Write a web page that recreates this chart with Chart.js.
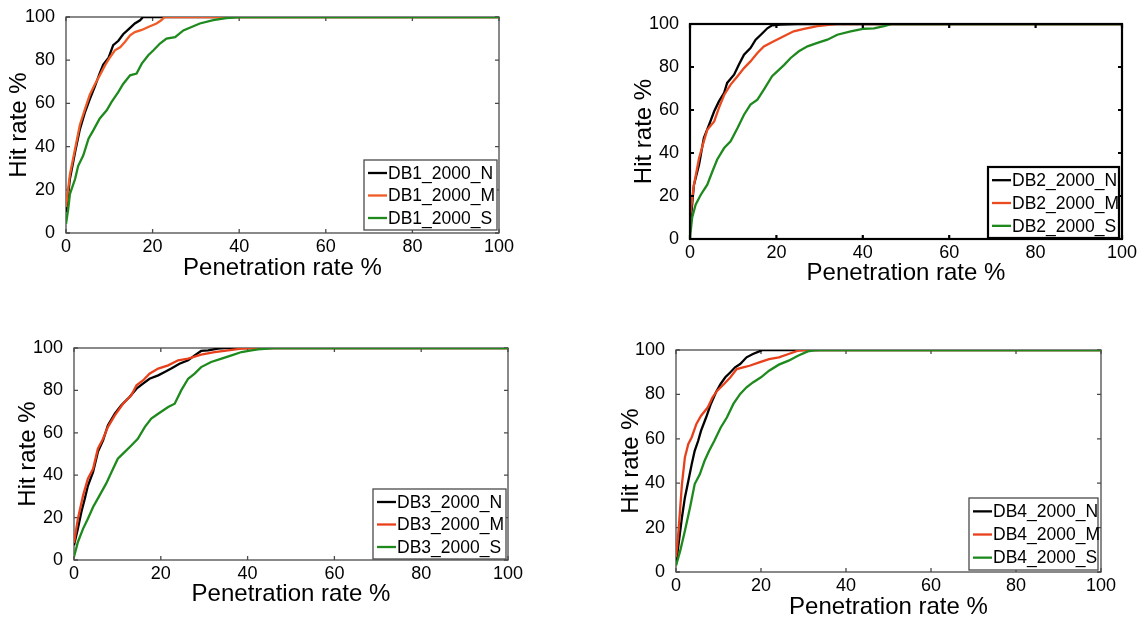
<!DOCTYPE html>
<html>
<head>
<meta charset="utf-8">
<script src="https://cdn.jsdelivr.net/npm/chart.js@4/dist/chart.umd.min.js"></script>
<style>
  html, body { margin: 0; padding: 0; background: #fff; }
  #wrap { position: relative; width: 1145px; height: 621px; overflow: hidden; background: #fff; }
  canvas { position: absolute; left: 0; top: 0; }
</style>
</head>
<body>
<div id="wrap">
  <canvas id="c1" width="1145" height="621"></canvas>
  <canvas id="c2" width="1145" height="621"></canvas>
  <canvas id="c3" width="1145" height="621"></canvas>
  <canvas id="c4" width="1145" height="621"></canvas>
</div>
<script>
// ---------- data ----------
const tickValues = [0, 20, 40, 60, 80, 100];
const tickLabels = ['0', '20', '40', '60', '80', '100'];
const xTitle = 'Penetration rate %';
const yTitle = 'Hit rate %';

const db1Labels = ['DB1_2000_N', 'DB1_2000_M', 'DB1_2000_S'];
const db2Labels = ['DB2_2000_N', 'DB2_2000_M', 'DB2_2000_S'];
const db3Labels = ['DB3_2000_N', 'DB3_2000_M', 'DB3_2000_S'];
const db4Labels = ['DB4_2000_N', 'DB4_2000_M', 'DB4_2000_S'];

// DB1
const db1N_x = [0,0.9,2.1,3.2,4.4,5.5,6.7,7.8,8.6,9.8,10.9,12.1,13.2,14.8,15.9,17.1,17.8,100];
const db1N_y = [9.7,25,37.5,48,56,62,68,74,78,81,87,89,92,95,97,98.5,100,100];
const db1M_x = [0,0.9,2.1,3.2,4.4,5.5,6.7,7.8,9,10.2,11.3,12.5,13.6,14.8,15.9,17.5,19,20.9,22,22.8,100];
const db1M_y = [12,27,39,50,57.5,64,69,73,77.6,81.5,84.6,86,88.4,91.5,93,94,95.4,97,98.5,100,100];
const db1S_x = [0,0.5,0.9,2.1,2.8,4,5.2,6.3,7.8,9.4,10.5,12.1,13.2,14.8,16.3,17.5,19,20.2,21.7,23.2,25.2,27.1,29,30.9,34,37,40.2,100];
const db1S_y = [4.3,11,18,25,31,36,43.7,47.5,53,56.8,60.6,65.3,69,73,73.8,78.4,82.3,84.6,87.7,90,90.7,93.8,95.4,97,98.5,99.5,100,100];

// DB2
const db2N_x = [0,0.9,2.1,3.2,4.4,5.6,6.7,7.9,8.6,10.2,11.3,12.5,14,15.2,16.4,17.9,19,21,24.8,100];
const db2N_y = [5,25,34.6,47,53,59.4,64,68,72.6,76.4,81,85.7,88.8,92.7,95,98,99.4,99.7,100,100];
const db2M_x = [0,0.9,2.1,3.2,4,5.6,6.7,7.9,9.4,11,12.5,14,15.6,17.1,19.4,21.7,24,26.4,29.5,32.6,34,100];
const db2M_y = [10,25,37.7,45.4,50.8,54.7,61,67,71.8,75.7,79.5,82.6,86.5,89.6,92,94.3,96.6,97.7,99,99.7,100,100];
const db2S_x = [0,0.5,1.3,2.5,4,5.2,6.3,7.9,9.4,11,12.5,14,15.6,17.1,19,20.2,21.8,23.3,25.2,27.2,29.5,31.8,34.1,37.2,40.3,42.6,44.9,46.8,100];
const db2S_y = [0.5,10,16,20.6,25.3,31.5,37,42.3,45.4,51.6,57.8,62.5,64.8,69.5,75.7,78,81,84.2,87.3,89.6,91.2,92.7,95,96.6,97.8,98,99,100,100];

// DB3
const db3N_x = [0,0.9,1.7,2.5,3.2,4.4,5.5,6.7,7.8,9.4,10.9,12.8,14.4,15.9,17.4,19.4,20.9,22.4,24.3,26.3,27.8,29.3,30.9,33.2,34.7,100];
const db3N_y = [7,14.8,22.6,29,35,41.5,51,56.4,63.5,69,73,76.9,80.8,83.2,85.5,87.1,88.7,90.3,92.6,94.2,96.5,98.6,98.9,99.7,100,100];
const db3M_x = [0,0.9,2.1,3.2,4.4,5.5,6.7,7.8,9.4,11.3,13.2,14.4,15.9,17.4,19.4,21.7,24,26.3,29.3,32.4,35.5,38.6,41.6,100];
const db3M_y = [8,19.5,30.5,38.4,43,52.5,57.2,62.7,68.2,73.7,77.7,82.4,84.7,87.9,90.3,91.8,94.2,95,96.9,98.1,98.9,99.7,100,100];
const db3S_x = [0,0.9,2.1,3.2,4.4,5.9,7.4,9,10.1,11.7,13.2,14.7,16.3,17.8,19.4,21.7,23.2,24.7,26.3,27.8,29.3,31.6,34,36.3,38.6,40.9,42.4,46,100];
const db3S_y = [1.5,8.5,14.8,19.5,25,30.5,36,43,47.8,51,54,57.2,62.7,66.7,69,72.2,73.7,80,85.5,87.9,91,93.4,95,96.5,98.1,98.9,99.4,100,100];

// DB4
const db4N_x = [0,0.6,1.4,2.1,2.9,3.7,4.4,5.2,5.9,7.1,8.2,9.4,10.5,11.6,12.8,13.9,15.1,16.6,18.1,19.6,20.4,100];
const db4N_y = [3.6,12.6,24.6,33.6,41,48.6,54.6,59,63.7,69.7,75.7,81,84.7,87.7,90,92.2,93.7,96.7,98.2,99.4,100,100];
const db4M_x = [0,0.6,1.4,2.1,2.9,3.7,4.8,5.9,7.5,8.6,9.7,11.3,12.8,14.3,15.8,17.3,19.6,21.9,24.2,26.5,28.7,30.3,100];
const db4M_y = [6.6,18.6,39.6,51.7,57.7,60.7,66.7,70.4,74.2,78.7,81.7,84.7,87.7,91.4,92.2,92.9,94.4,95.9,96.7,98.2,99.7,100,100];
const db4S_x = [0,1,2.1,3.3,4.4,5.6,6.7,7.8,9,10.5,12,13.5,15.1,16.6,18.1,20,21.9,24.2,26.5,28.7,31,32.5,34,100];
const db4S_y = [2.9,9.6,18.6,29,39.6,44,50,54.6,59,65,69.7,75.7,80.2,83.2,85.4,87.7,90.7,93.4,95.2,97.4,99.4,99.8,100,100];

// ---------- layout & style ----------
const W = 1145, H = 621;
const FONT = "'Liberation Sans', Arial, Helvetica, sans-serif";
Chart.defaults.font.family = FONT;

const panels = [
  { id: 'c1', area: {l: 66, t: 17, r: 499, b: 233}, yTitleX: 19, xTitleY: 268,
    legend: {x: 364, y: 160, w: 133, h: 70}, frame: '#4a4a4a', frameW: 1.3, frameOnTop: false,
    colors: ['#000000', '#f05a24', '#1e8a1e'], labels: db1Labels,
    series: [[db1N_x, db1N_y], [db1M_x, db1M_y], [db1S_x, db1S_y]] },
  { id: 'c2', area: {l: 690, t: 24, r: 1122, b: 239}, yTitleX: 644, xTitleY: 273,
    legend: {x: 988, y: 167, w: 131, h: 71}, frame: '#000000', frameW: 2.2, frameOnTop: true,
    colors: ['#000000', '#ea4a1e', '#1e8a1e'], labels: db2Labels,
    series: [[db2N_x, db2N_y], [db2M_x, db2M_y], [db2S_x, db2S_y]] },
  { id: 'c3', area: {l: 74, t: 348, r: 508, b: 560}, yTitleX: 28, xTitleY: 594,
    legend: {x: 373, y: 489, w: 133, h: 70}, frame: '#4a4a4a', frameW: 1.3, frameOnTop: false,
    colors: ['#000000', '#e8401a', '#1e8a1e'], labels: db3Labels,
    series: [[db3N_x, db3N_y], [db3M_x, db3M_y], [db3S_x, db3S_y]] },
  { id: 'c4', area: {l: 676, t: 350, r: 1101, b: 572}, yTitleX: 631, xTitleY: 607,
    legend: {x: 969, y: 498, w: 129, h: 72}, frame: '#4a4a4a', frameW: 1.3, frameOnTop: false,
    colors: ['#000000', '#e8401a', '#1e8a1e'], labels: db4Labels,
    series: [[db4N_x, db4N_y], [db4M_x, db4M_y], [db4S_x, db4S_y]] }
];

const TITLE_SIZE = 24, TITLE_HALF = 12; // lineHeight 1
const TICK_LEN = 4;

function drawFrame(chart, p) {
  const {ctx, chartArea: a, scales} = chart;
  ctx.save();
  ctx.strokeStyle = p.frame;
  ctx.lineWidth = p.frameW;
  ctx.strokeRect(a.left, a.top, a.right - a.left, a.bottom - a.top);
  ctx.beginPath();
  tickValues.forEach(v => {
    const x = scales.x.getPixelForValue(v);
    const y = scales.y.getPixelForValue(v);
    ctx.moveTo(x, a.bottom); ctx.lineTo(x, a.bottom - TICK_LEN);
    ctx.moveTo(x, a.top); ctx.lineTo(x, a.top + TICK_LEN);
    ctx.moveTo(a.left, y); ctx.lineTo(a.left + TICK_LEN, y);
    ctx.moveTo(a.right, y); ctx.lineTo(a.right - TICK_LEN, y);
  });
  ctx.stroke();
  ctx.restore();
}

function drawLegend(chart, p) {
  const {ctx} = chart;
  const L = p.legend;
  ctx.save();
  ctx.fillStyle = '#ffffff';
  ctx.fillRect(L.x, L.y, L.w, L.h);
  ctx.strokeStyle = p.frame;
  ctx.lineWidth = p.frameW;
  ctx.strokeRect(L.x, L.y, L.w, L.h);
  const rows = [13, 35.5, 58];
  chart.data.datasets.forEach((ds, i) => {
    const cy = L.y + rows[i] * (L.h / 70);
    ctx.strokeStyle = ds.borderColor;
    ctx.lineWidth = 2.3;
    ctx.beginPath();
    ctx.moveTo(L.x + 4, cy); ctx.lineTo(L.x + 23, cy);
    ctx.stroke();
    ctx.fillStyle = '#000';
    ctx.font = '17.5px ' + FONT;
    ctx.textBaseline = 'middle';
    ctx.textAlign = 'left';
    ctx.fillText(ds.label, L.x + 24, cy + 1);
  });
  ctx.restore();
}

panels.forEach(p => {
  const a = p.area;
  const axisLeft = p.yTitleX - TITLE_HALF;
  const yW = a.l - axisLeft;
  const axisBottom = p.xTitleY + TITLE_HALF;
  const xH = axisBottom - a.b;
  const pad = { left: axisLeft, top: a.t, right: W - a.r, bottom: H - axisBottom };

  const datasets = p.series.map((s, i) => ({
    label: p.labels[i],
    data: s[0].map((x, j) => ({x: x, y: s[1][j]})),
    borderColor: p.colors[i],
    backgroundColor: p.colors[i],
    borderWidth: 2.3,
    pointRadius: 0,
    tension: 0,
    fill: false,
    order: 2 - i
  }));

  const tickCfg = {
    color: '#000',
    font: { size: 18, family: FONT, lineHeight: 1 },
    autoSkip: false,
    maxRotation: 0,
    callback: (v) => { const k = tickValues.indexOf(v); return k >= 0 ? tickLabels[k] : ''; }
  };

  const framePlugin = {
    id: 'frame_' + p.id,
    beforeDatasetsDraw(chart) { if (!p.frameOnTop) drawFrame(chart, p); },
    afterDatasetsDraw(chart) { if (p.frameOnTop) drawFrame(chart, p); drawLegend(chart, p); }
  };

  new Chart(document.getElementById(p.id), {
    type: 'line',
    data: { datasets },
    options: {
      responsive: false,
      animation: false,
      events: [],
      layout: { padding: pad },
      plugins: { legend: { display: false }, tooltip: { enabled: false }, title: { display: false } },
      scales: {
        x: {
          type: 'linear', position: 'bottom', min: 0, max: 100,
          grid: { display: false }, border: { display: false },
          ticks: Object.assign({}, tickCfg, { stepSize: 20, padding: -3 }),
          title: { display: true, text: xTitle, color: '#000', font: { size: TITLE_SIZE, lineHeight: 1, family: FONT }, padding: 0 },
          afterFit(s) { s.height = xH; }
        },
        y: {
          type: 'linear', position: 'left', min: 0, max: 100,
          grid: { display: false }, border: { display: false },
          ticks: Object.assign({}, tickCfg, { stepSize: 20, padding: 3 }),
          title: { display: true, text: yTitle, color: '#000', font: { size: TITLE_SIZE, lineHeight: 1, family: FONT }, padding: 0 },
          afterFit(s) { s.width = yW; }
        }
      }
    },
    plugins: [framePlugin]
  });
});
</script>
</body>
</html>
